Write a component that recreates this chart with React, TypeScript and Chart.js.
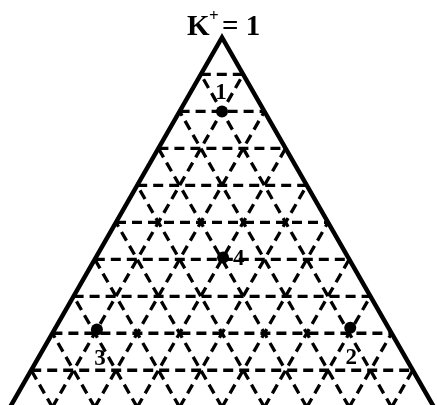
import React, { useEffect, useRef } from "react";
import { Chart, registerables } from "chart.js";

Chart.register(...registerables);

// ---- data ----
const TITLE_MAIN = "K";
const TITLE_SUP = "+";
const TITLE_REST = "= 1";
const DIVISIONS = 10;
const POINT_LABELS = ["1", "2", "3", "4"];
// ternary composition of each point (K+ is the top vertex)
const POINT_K = [0.8, 0.215, 0.21, 0.405];
const POINT_A = [0.1, 0.09, 0.69, 0.295];
const POINT_B = [0.1, 0.695, 0.1, 0.3];

// ---- helpers ----
const toXY = (k: number, b: number) => ({ x: b + k / 2, y: k });

const SERIF = '"Liberation Serif", "Times New Roman", serif';

// label placement relative to point (pixels): [dx, dy, align]
const LABEL_PLACE: [number, number, CanvasTextAlign][] = [
  [-1, -12.5, "center"],
  [1, 36, "center"],
  [3, 35, "center"],
  [10, 7.5, "left"],
];

function buildGrid() {
  const segs: { x: number; y: number }[][] = [];
  for (let i = 1; i < DIVISIONS; i++) {
    const f = i / DIVISIONS;
    segs.push([toXY(f, 0), toXY(f, 1 - f)]);
    segs.push([toXY(0, 1 - f), toXY(1 - f, 0)]);
    segs.push([toXY(0, f), toXY(1 - f, f)]);
  }
  return segs;
}

const labelsPlugin = {
  id: "ternaryText",
  afterDraw(chart: any) {
    const ctx = chart.ctx as CanvasRenderingContext2D;
    const xs = chart.scales.x;
    const ys = chart.scales.y;
    ctx.save();
    ctx.fillStyle = "#000";
    ctx.textBaseline = "alphabetic";
    ctx.font = `bold 23px ${SERIF}`;
    POINT_LABELS.forEach((lab, i) => {
      const p = toXY(POINT_K[i], POINT_B[i]);
      const px = xs.getPixelForValue(p.x);
      const py = ys.getPixelForValue(p.y);
      const [dx, dy, al] = LABEL_PLACE[i];
      ctx.textAlign = al;
      ctx.fillText(lab, px + dx, py + dy);
    });
    const apex = toXY(1, 0);
    const ax = xs.getPixelForValue(apex.x);
    const baseY = 35;
    ctx.textAlign = "left";
    ctx.font = `bold 29px ${SERIF}`;
    ctx.fillText(TITLE_MAIN, ax - 35, baseY);
    ctx.font = `bold 17px ${SERIF}`;
    ctx.fillText(TITLE_SUP, ax - 13, baseY - 14);
    ctx.font = `bold 29px ${SERIF}`;
    ctx.fillText(TITLE_REST, ax, baseY);
    ctx.restore();
  },
};

export default function App() {
  const ref = useRef<HTMLCanvasElement | null>(null);

  useEffect(() => {
    document.body.style.margin = "0";
    if (!ref.current) return;

    const grid = buildGrid();
    const outline = [toXY(0, 0), toXY(1, 0), toXY(0, 1), toXY(0, 0)];
    const points = POINT_K.map((k, i) => toXY(k, POINT_B[i]));

    const datasets: any[] = [
      {
        label: "points",
        data: points,
        showLine: false,
        pointRadius: 6,
        pointBackgroundColor: "#000",
        pointBorderColor: "#000",
        pointBorderWidth: 0,
        order: 0,
      },
      {
        label: "triangle",
        data: outline,
        showLine: true,
        borderColor: "#000",
        borderWidth: 4.5,
        borderJoinStyle: "miter",
        pointRadius: 0,
        fill: false,
        order: 1,
      },
      ...grid.map((seg, i) => ({
        label: "grid" + i,
        data: seg,
        showLine: true,
        borderColor: "#000",
        borderWidth: 3.3,
        borderDash: [10, 6],
        pointRadius: 0,
        fill: false,
        order: 2,
      })),
    ];

    const chart = new Chart(ref.current, {
      type: "scatter",
      data: { datasets },
      options: {
        animation: false,
        responsive: true,
        maintainAspectRatio: false,
        layout: { padding: 0, autoPadding: false } as any,
        plugins: {
          legend: { display: false },
          tooltip: { enabled: false },
          title: { display: false },
        },
        events: [],
        scales: {
          x: { type: "linear", display: false, min: -10 / 424, max: 427 / 424 },
          y: { type: "linear", display: false, min: 2.2 / 369.7, max: 407.2 / 369.7 },
        },
      },
      plugins: [labelsPlugin],
    });
    return () => chart.destroy();
  }, []);

  return (
    <div style={{ position: "relative", width: 437, height: 405, background: "#fff" }}>
      <canvas ref={ref} />
    </div>
  );
}
